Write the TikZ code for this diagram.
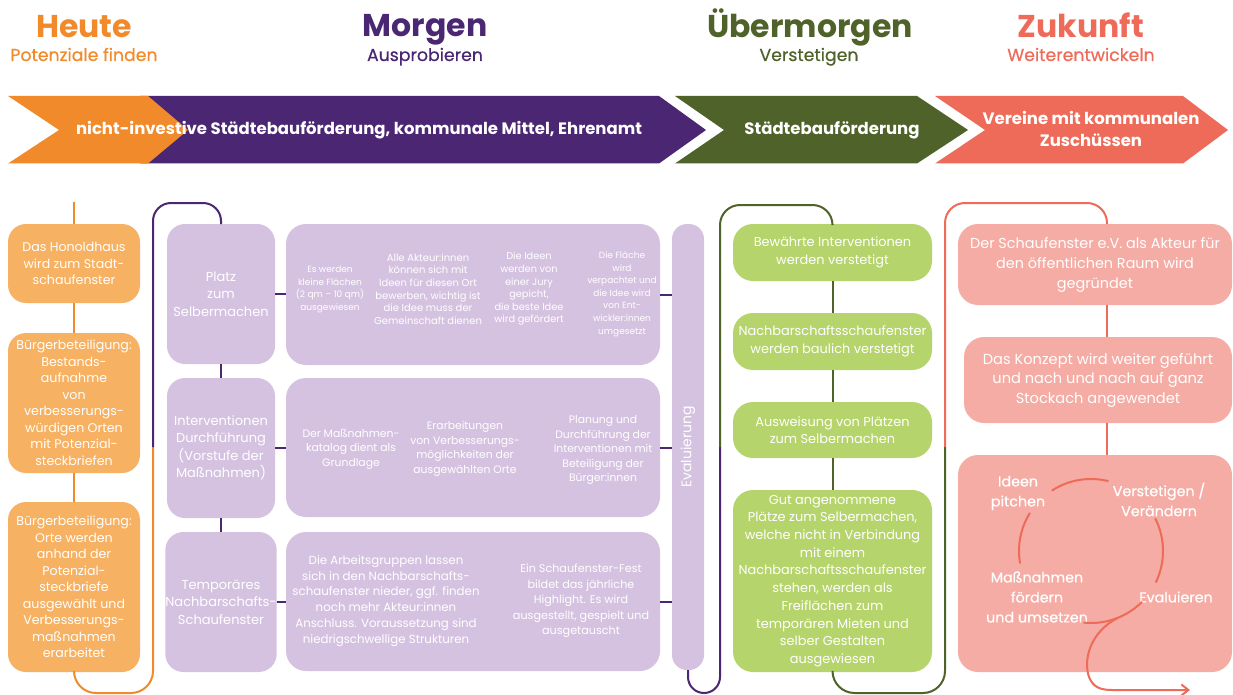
\documentclass[tikz,border=0pt]{standalone}
\usepackage{fontspec}
\setmainfont{Poppins}
\newfontfamily\pmed{Poppins}[FakeBold=0.5]
\usetikzlibrary{calc,arrows.meta}
\definecolor{cor}{HTML}{F18A2B}
\definecolor{corl}{HTML}{F7B162}
\definecolor{cpu}{HTML}{4A2673}
\definecolor{cpul}{HTML}{D5C2E0}
\definecolor{cgr}{HTML}{4F6229}
\definecolor{cgrl}{HTML}{B6D46C}
\definecolor{cco}{HTML}{EE6B59}
\definecolor{ccol}{HTML}{F5ACA4}
\newcommand\fz[2]{\fontsize{#1}{#2}\selectfont}
\begin{document}
\begin{tikzpicture}[x=1pt,y=-1pt,
 every node/.style={inner sep=0pt, outer sep=0pt, align=center},
 ob/.style={fill=corl, rounded corners=18pt, text=white, minimum width=132pt, font=\fz{12.6}{16.5}},
 pb/.style={fill=cpul, rounded corners=18pt, text=white, minimum width=108pt, minimum height=140pt, font=\fz{13}{17.5}},
 wb/.style={fill=cpul, rounded corners=20pt, minimum width=374pt},
 wta/.style={text=white, font=\fz{9}{12.6}},
 wtb/.style={text=white, font=\fz{10.8}{14.5}},
 wtc/.style={text=white, font=\fz{11.8}{15.9}},
 gb/.style={fill=cgrl, rounded corners=20pt, text=white, minimum width=199pt, font=\fz{12.9}{17.7}},
 cb/.style={fill=ccol, rounded corners=20pt, text=white, font=\fz{14.4}{20}},
 cyc/.style={text=white, font=\pmed\fz{14.3}{20}},
 ol/.style={draw=cor, line width=2pt},
 pl/.style={draw=cpu, line width=2pt},
 gl/.style={draw=cgr, line width=2pt},
 cl/.style={draw=cco, line width=2pt},
 ht/.style={font=\bfseries\fz{31.5}{34}, anchor=base},
 st/.style={font=\pmed\fz{17.3}{20}, anchor=base},
 bt/.style={text=white, font=\bfseries\fz{16.5}{22.5}}
]
\fill[white] (0,0) rectangle (1233,695);
\useasboundingbox (0,0) rectangle (1233,695);

% headings
\node[ht, text=cor] (h1) at (84,38) {Heute};
\node[st, text=cor] (s1) at (84,61) {Potenziale finden};
\node[ht, text=cpu] (h2) at (425,37) {Morgen};
\node[st, text=cpu] (s2) at (425,61) {Ausprobieren};
\node[ht, text=cgr] (h3) at (810,38) {Übermorgen};
\node[st, text=cgr] (s3) at (809,61) {Verstetigen};
\node[ht, text=cco] (h4) at (1081,38) {Zukunft};
\node[st, text=cco] (s4) at (1081,61) {Weiterentwickeln};

% banner
\fill[cpu] (140,96) -- (659,96) -- (706,130) -- (659,163.5) -- (140,163.5) -- cycle;
\fill[cor] (8,96) -- (148,96) -- (188,130) -- (148,163.5) -- (8,163.5) -- (59,130) -- cycle;
\fill[cgr] (675,96) -- (917,96) -- (968,130) -- (917,163.5) -- (675,163.5) -- (724,130) -- cycle;
\fill[cco] (935,96) -- (1183,96) -- (1228,130) -- (1183,163.5) -- (935,163.5) -- (985,130) -- cycle;
\node[bt] (b1) at (359,130) {nicht-investive Städtebauförderung, kommunale Mittel, Ehrenamt};
\node[bt] (b2) at (832,130) {Städtebauförderung};
\node[bt] (b3) at (1091,129) {Vereine mit kommunalen\\Zuschüssen};

% orange column
\node[ob, minimum height=79pt] (O1) at (74,263.5) {Das Honoldhaus\\wird zum Stadt-\\schaufenster};
\node[ob, minimum height=140pt] (O2) at (74,403) {Bürgerbeteiligung:\\Bestands-\\aufnahme\\von\\verbesserungs-\\würdigen Orten\\mit Potenzial-\\steckbriefen};
\node[ob, minimum height=170pt] (O3) at (74,587) {Bürgerbeteiligung:\\Orte werden\\anhand der\\Potenzial-\\steckbriefe\\ausgewählt und\\Verbesserungs-\\maßnahmen\\erarbeitet};
\coordinate (otop) at (74,202);
\coordinate (jOP) at (153,447);
\draw[ol] (otop) -- (O1.north);
\draw[ol] (O1) -- (O2);
\draw[ol] (O2) -- (O3);
\draw[ol, rounded corners=22pt] (O3.south) -- (74,693) -- (153,693) -- (jOP);

% purple column
\node[pb] (P1) at (221,294) {Platz\\zum\\Selbermachen};
\node[pb] (P2) at (221,448) {Interventionen\\Durchführung\\(Vorstufe der\\Maßnahmen)};
\node[pb] (P3) at (221,602) {Temporäres\\Nachbarschafts-\\Schaufenster};
\node[wb, minimum height=141pt] (W1) at (473,294.5) {};
\node[wb, minimum height=139pt] (W2) at (473,447.5) {};
\node[wb, minimum height=139pt] (W3) at (473,601.5) {};
\node[fill=cpul, rounded corners=15pt, minimum width=32pt, minimum height=446pt] (E) at (688,447) {};
\node[rotate=90, text=white, font=\fz{14}{16}] (Et) at (E) {Evaluierung};

\node[wta] (w11) at (330,289.5) {Es werden\\kleine Flächen\\(2 qm – 10 qm)\\ausgewiesen};
\node[wta, font=\fz{10}{12.6}] (w12) at (428,289) {Alle Akteur:innen\\können sich mit\\Ideen für diesen Ort\\bewerben, wichtig ist\\die Idee muss der\\Gemeinschaft dienen};
\node[wta, font=\fz{9.8}{12.6}] (w13) at (529,289) {Die Ideen\\werden von\\einer Jury\\gepicht,\\die beste Idee\\wird gefördert};
\node[wta] (w14) at (622,294) {Die Fläche\\wird\\verpachtet und\\die Idee wird\\von Ent-\\wickler:innen\\umgesetzt};
\node[wtb] (w21) at (351,449) {Der Maßnahmen-\\katalog dient als\\Grundlage};
\node[wtb] (w22) at (465,449) {Erarbeitungen\\von Verbesserungs-\\möglichkeiten der\\ausgewählten Orte};
\node[wtb] (w23) at (603,450) {Planung und\\Durchführung der\\Interventionen mit\\Beteiligung der\\Bürger:innen};
\node[wtc] (w31) at (386,601) {Die Arbeitsgruppen lassen\\sich in den Nachbarschafts-\\schaufenster nieder, ggf. finden\\noch mehr Akteur:innen\\Anschluss. Voraussetzung sind\\niedrigschwellige Strukturen};
\node[wtc, font=\fz{11.2}{15.6}] (w32) at (581,601) {Ein Schaufenster-Fest\\bildet das jährliche\\Highlight. Es wird\\ausgestellt, gespielt und\\ausgetauscht};

\draw[pl, rounded corners=18pt] (jOP) -- (153,203) -- (221,203) -- (P1.north);
\draw[pl] (P1) -- (P2);
\draw[pl] (P2) -- (P3);
\draw[pl] (P1.east) -- (P1.east -| W1.west);
\draw[pl] (P2.east) -- (P2.east -| W2.west);
\draw[pl] (P3.east) -- (P3.east -| W3.west);
\draw[pl] (W1.east) -- (W1.east -| E.west);
\draw[pl] (W2.east) -- (W2.east -| E.west);
\draw[pl] (W3.east) -- (W3.east -| E.west);
\coordinate (jPG) at (720,447);
\draw[pl, rounded corners=16pt] (E.south) -- (688,693) -- (720,693) -- (jPG);

% green column
\node[gb, minimum height=57pt] (G1) at (832.5,252.5) {Bewährte Interventionen\\werden verstetigt};
\node[gb, minimum height=57pt] (G2) at (832.5,341.5) {Nachbarschaftsschaufenster\\werden baulich verstetigt};
\node[gb, minimum height=56pt] (G3) at (832.5,430) {Ausweisung von Plätzen\\zum Selbermachen};
\node[gb, minimum height=182pt] (G4) at (832.5,581) {Gut angenommene\\Plätze zum Selbermachen,\\welche nicht in Verbindung\\mit einem\\Nachbarschaftsschaufenster\\stehen, werden als\\Freiflächen zum\\temporären Mieten und\\selber Gestalten\\ausgewiesen};
\draw[gl, rounded corners=20pt] (jPG) -- (720,205) -- (832.5,205) -- (G1.north);
\draw[gl] (G1) -- (G2);
\draw[gl] (G2) -- (G3);
\draw[gl] (G3) -- (G4);
\coordinate (jGC) at (945,447);
\draw[gl, rounded corners=22pt] (G4.south) -- (832.5,693) -- (945,693) -- (jGC);

% coral column
\node[cb, minimum width=274pt, minimum height=81pt] (C1) at (1095,264.5) {Der Schaufenster e.V. als Akteur für\\den öffentlichen Raum wird\\gegründet};
\node[cb, minimum width=268pt, minimum height=86pt, font=\fz{14.6}{19.5}] (C2) at (1098,380) {Das Konzept wird weiter geführt\\und nach und nach auf ganz\\Stockach angewendet};
\node[cb, minimum width=274pt, minimum height=217pt] (C3) at (1095,563.5) {};
\coordinate (cx) at (1107,0);
\draw[cl, rounded corners=20pt] (jGC) -- (945,203) -- (1107,203) -- (C1.north -| cx);
\draw[cl] (C1.south -| cx) -- (C2.north -| cx);
\draw[cl] (C2.south -| cx) -- (C3.north -| cx);

\node[cyc] (k1) at (1018,493) {Ideen\\pitchen};
\node[cyc] (k2) at (1159,499.5) {Verstetigen /\\Verändern};
\node[cyc] (k3) at (1037,597) {Maßnahmen\\fördern\\und umsetzen};
\node[cyc] (k4) at (1176,597) {Evaluieren};
\coordinate (cc) at (1091,551);
\draw[cl] ($(cc)+(-123:72)$) arc[start angle=-123, end angle=-76, radius=72];
\draw[cl] ($(cc)+(-27:72)$) arc[start angle=-27, end angle=26, radius=72];
\draw[cl] ($(cc)+(45:72)$) arc[start angle=45, end angle=96, radius=72];
\draw[cl] ($(cc)+(-148:72)$) arc[start angle=-148, end angle=-190, radius=72];
\coordinate (cout) at ($(cc)+(68:72)$);
\coordinate (aend) at (1190,690);
\draw[cl, -{Straight Barb[length=7pt,width=11pt]}] (cout) .. controls (1090,632) and (1083,660) .. (1089,677) .. controls (1093,687) and (1100,690) .. (1112,690) -- (aend);
\end{tikzpicture}
\end{document}
